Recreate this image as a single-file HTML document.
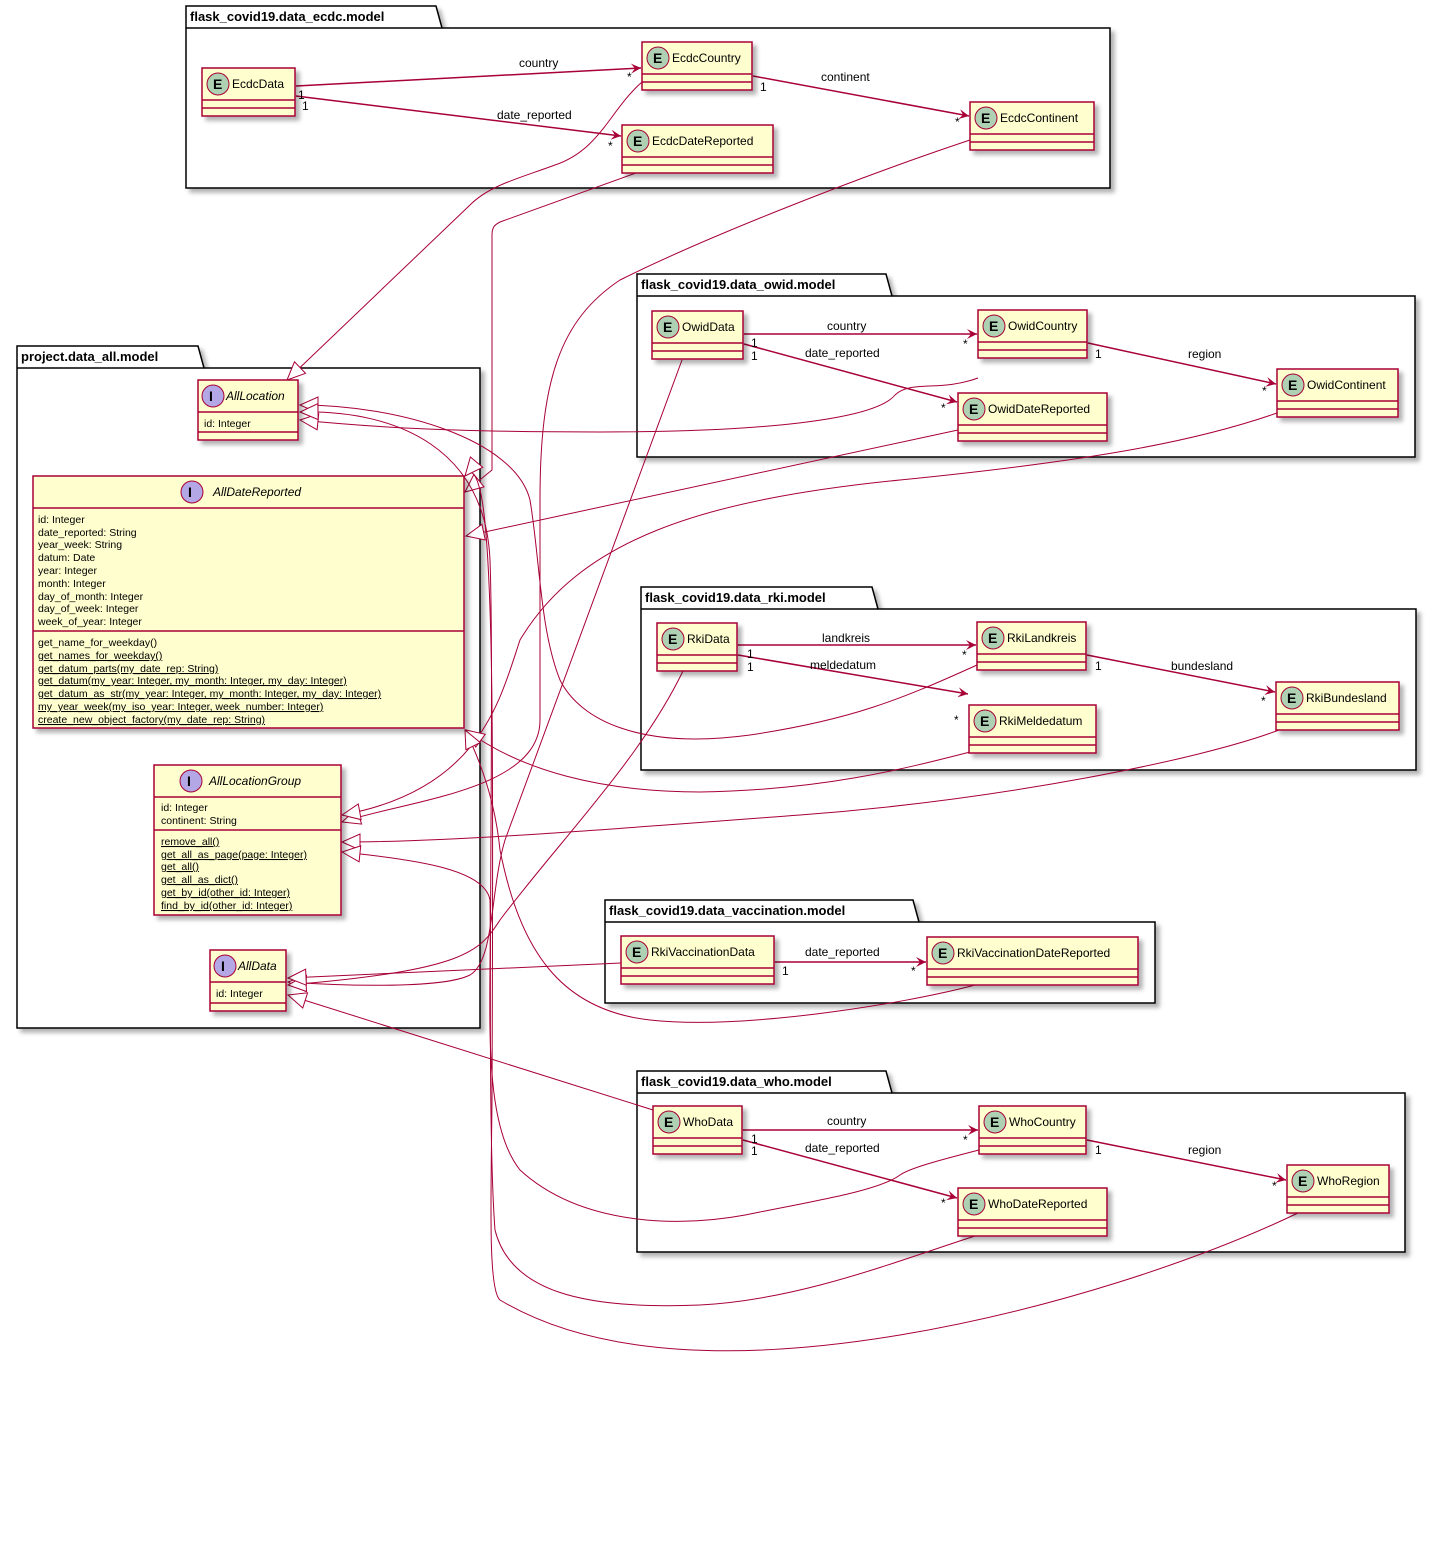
<!DOCTYPE html>
<html><head><meta charset="utf-8"><style>
html,body{margin:0;padding:0;background:#fff}
svg{display:block}
text{font-family:"Liberation Sans","DejaVu Sans",sans-serif;fill:#000}
.n{font-size:12px}
.f{font-size:10.5px}
.u{text-decoration:underline}
.pk{font-size:13px;font-weight:bold}
.e{fill:#FEFECE;stroke:#A80036;stroke-width:1.5;filter:url(#sh)}
.l{stroke:#A80036;stroke-width:1.5}
.c{fill:none;stroke:#A80036;stroke-width:1}
.t{fill:#fff;stroke:#A80036;stroke-width:1}
.p{fill:#fff;stroke:#000;stroke-width:1.5;filter:url(#sh)}
</style></head><body>
<svg width="1432" height="1543" viewBox="0 0 1432 1543" xmlns="http://www.w3.org/2000/svg">
<defs>
<filter id="sh" x="-5%" y="-5%" width="115%" height="130%"><feDropShadow dx="4" dy="4" stdDeviation="2" flood-color="#000" flood-opacity="0.3"/></filter>
<marker id="ar" markerWidth="12" markerHeight="10" refX="10" refY="5" orient="auto" markerUnits="userSpaceOnUse"><path d="M0,0 L10,5 L0,10 L4,5 Z" fill="#A80036"/></marker>
<marker id="dm" markerWidth="16" markerHeight="10" refX="1" refY="5" orient="auto-start-reverse" markerUnits="userSpaceOnUse"><path d="M1,5 L7,1 L13,5 L7,9 Z" fill="#A80036"/></marker>
<marker id="tr" markerWidth="22" markerHeight="22" refX="19" refY="10" orient="auto" markerUnits="userSpaceOnUse"><path d="M19,10 L1,2 L1,18 Z" fill="#fff" stroke="#A80036" stroke-width="1"/></marker>
</defs>

<!-- packages -->
<g>
<path class="p" d="M186,28 L186,6 L436,6 L442,28 L1110,28 L1110,188 L186,188 Z"/><line x1="186" y1="28" x2="442" y2="28" stroke="#000" stroke-width="1.5"/>
<text class="pk" x="190" y="21">flask_covid19.data_ecdc.model</text>
<path class="p" d="M637,296 L637,274 L886,274 L892,296 L1415,296 L1415,457 L637,457 Z"/><line x1="637" y1="296" x2="892" y2="296" stroke="#000" stroke-width="1.5"/>
<text class="pk" x="641" y="289">flask_covid19.data_owid.model</text>
<path class="p" d="M17,368 L17,346 L198,346 L204,368 L480,368 L480,1028 L17,1028 Z"/><line x1="17" y1="368" x2="204" y2="368" stroke="#000" stroke-width="1.5"/>
<text class="pk" x="21" y="361">project.data_all.model</text>
<path class="p" d="M641,609 L641,587 L872,587 L878,609 L1416,609 L1416,770 L641,770 Z"/><line x1="641" y1="609" x2="878" y2="609" stroke="#000" stroke-width="1.5"/>
<text class="pk" x="645" y="602">flask_covid19.data_rki.model</text>
<path class="p" d="M605,922 L605,900 L913,900 L919,922 L1155,922 L1155,1003 L605,1003 Z"/><line x1="605" y1="922" x2="919" y2="922" stroke="#000" stroke-width="1.5"/>
<text class="pk" x="609" y="915">flask_covid19.data_vaccination.model</text>
<path class="p" d="M637,1093 L637,1071 L886,1071 L892,1093 L1405,1093 L1405,1252 L637,1252 Z"/><line x1="637" y1="1093" x2="892" y2="1093" stroke="#000" stroke-width="1.5"/>
<text class="pk" x="641" y="1086">flask_covid19.data_who.model</text>
</g>

<!-- generalization connectors -->
<g>
<path class="c" marker-end="url(#tr)" d="M642,82 C610,110 600,150 555,165 C520,178 490,185 470,205 L287,380"/>
<path class="c" marker-end="url(#tr)" d="M636,173 L500,222 C494,225 492,228 492,235 L492,470 L465,492"/>
<path class="c" marker-end="url(#tr)" d="M970,140 C850,180 700,240 620,280 C560,320 540,380 540,500 L540,720 C540,790 410,800 342,822"/>
<path class="c" marker-end="url(#tr)" d="M682,360 L505,840 C490,890 495,960 470,975 C440,990 330,985 288,982"/>
<path class="c" marker-end="url(#tr)" d="M978,378 C940,392 910,380 895,395 C875,420 760,432 600,432 C460,432 380,428 300,420"/>
<path class="c" marker-end="url(#tr)" d="M958,430 L466,536"/>
<path class="c" marker-end="url(#tr)" d="M1277,413 C1200,440 1100,460 900,480 C700,500 580,540 520,640 C500,700 480,790 342,815"/>
<path class="c" marker-end="url(#tr)" d="M977,665 C900,700 850,720 750,735 C640,750 580,720 560,680 C540,630 540,560 530,500 C515,440 400,405 300,405"/>
<path class="c" marker-end="url(#tr)" d="M970,752 C900,770 820,790 700,792 C600,792 520,770 466,730"/>
<path class="c" marker-end="url(#tr)" d="M1279,730 C1200,760 1000,800 800,815 C600,830 450,842 342,842"/>
<path class="c" marker-end="url(#tr)" d="M683,671 C640,760 560,840 500,920 C480,950 470,970 288,985"/>
<path class="c" marker-end="url(#tr)" d="M621,963 L288,978"/>
<path class="c" marker-end="url(#tr)" d="M975,985 C900,1005 740,1030 650,1020 C560,1010 520,950 500,850 C495,800 480,760 465,730"/>
<path class="c" marker-end="url(#tr)" d="M653,1110 L288,995"/>
<path class="c" marker-end="url(#tr)" d="M979,1150 C940,1160 910,1168 900,1175 C880,1190 820,1200 760,1212 C680,1230 580,1225 520,1170 C480,1120 492,1000 490,900 C485,870 420,860 342,852"/>
<path class="c" marker-end="url(#tr)" d="M975,1236 C900,1260 800,1300 700,1305 C580,1310 510,1290 495,1230 C485,1100 495,700 490,560 C485,450 400,410 300,412"/>
<path class="c" marker-end="url(#tr)" d="M1298,1213 C1200,1260 1050,1310 900,1335 C750,1360 600,1360 500,1300 C488,1290 491,1200 492,1100 C493,800 495,550 480,490 C475,470 470,470 465,476"/>
</g>

<!-- associations -->
<g>
<path class="l" marker-start="url(#dm)" marker-end="url(#ar)" d="M296,86 L641,68"/>
<path class="l" marker-start="url(#dm)" marker-end="url(#ar)" d="M296,96 L621,136"/>
<path class="l" marker-start="url(#dm)" marker-end="url(#ar)" d="M753,76 L969,116"/>
<text class="n" x="519" y="67">country</text><text class="n" x="497" y="119">date_reported</text><text class="n" x="821" y="81">continent</text>
<text class="n" x="298" y="99">1</text><text class="n" x="302" y="110">1</text><text class="n" x="627" y="81">*</text><text class="n" x="608" y="150">*</text><text class="n" x="760" y="91">1</text><text class="n" x="955" y="126">*</text>

<path class="l" marker-start="url(#dm)" marker-end="url(#ar)" d="M744,334 L977,334"/>
<path class="l" marker-start="url(#dm)" marker-end="url(#ar)" d="M744,344 L957,402"/>
<path class="l" marker-start="url(#dm)" marker-end="url(#ar)" d="M1088,343 L1276,384"/>
<text class="n" x="827" y="330">country</text><text class="n" x="805" y="357">date_reported</text><text class="n" x="1188" y="358">region</text>
<text class="n" x="751" y="347">1</text><text class="n" x="751" y="360">1</text><text class="n" x="963" y="348">*</text><text class="n" x="941" y="412">*</text><text class="n" x="1095" y="358">1</text><text class="n" x="1262" y="395">*</text>

<path class="l" marker-start="url(#dm)" marker-end="url(#ar)" d="M738,645 L976,645"/>
<path class="l" marker-start="url(#dm)" marker-end="url(#ar)" d="M738,655 L968,694"/>
<path class="l" marker-start="url(#dm)" marker-end="url(#ar)" d="M1087,655 L1275,692"/>
<text class="n" x="822" y="642">landkreis</text><text class="n" x="810" y="669">meldedatum</text><text class="n" x="1171" y="670">bundesland</text>
<text class="n" x="747" y="658">1</text><text class="n" x="747" y="671">1</text><text class="n" x="962" y="659">*</text><text class="n" x="954" y="724">*</text><text class="n" x="1095" y="670">1</text><text class="n" x="1261" y="705">*</text>

<path class="l" marker-start="url(#dm)" marker-end="url(#ar)" d="M775,962 L926,962"/>
<text class="n" x="805" y="956">date_reported</text><text class="n" x="782" y="975">1</text><text class="n" x="911" y="975">*</text>

<path class="l" marker-start="url(#dm)" marker-end="url(#ar)" d="M743,1130 L978,1130"/>
<path class="l" marker-start="url(#dm)" marker-end="url(#ar)" d="M743,1140 L957,1198"/>
<path class="l" marker-start="url(#dm)" marker-end="url(#ar)" d="M1087,1140 L1286,1180"/>
<text class="n" x="827" y="1125">country</text><text class="n" x="805" y="1152">date_reported</text><text class="n" x="1188" y="1154">region</text>
<text class="n" x="751" y="1143">1</text><text class="n" x="751" y="1155">1</text><text class="n" x="963" y="1144">*</text><text class="n" x="941" y="1207">*</text><text class="n" x="1095" y="1154">1</text><text class="n" x="1272" y="1190">*</text>
</g>

<!-- entities -->
<g id="ents">
<g><rect class="e" x="202" y="68" width="93" height="48"/><line class="l" x1="202" y1="100" x2="295" y2="100"/><line class="l" x1="202" y1="108" x2="295" y2="108"/><circle cx="218" cy="84" r="11" fill="#ADD1B2" stroke="#A80036"/><text x="213" y="89" style="font-weight:bold;font-size:14px">E</text><text class="n" x="232" y="88">EcdcData</text></g>
<g><rect class="e" x="642" y="42" width="110" height="48"/><line class="l" x1="642" y1="74" x2="752" y2="74"/><line class="l" x1="642" y1="82" x2="752" y2="82"/><circle cx="658" cy="58" r="11" fill="#ADD1B2" stroke="#A80036"/><text x="653" y="63" style="font-weight:bold;font-size:14px">E</text><text class="n" x="672" y="62">EcdcCountry</text></g>
<g><rect class="e" x="622" y="125" width="151" height="48"/><line class="l" x1="622" y1="157" x2="773" y2="157"/><line class="l" x1="622" y1="165" x2="773" y2="165"/><circle cx="638" cy="141" r="11" fill="#ADD1B2" stroke="#A80036"/><text x="633" y="146" style="font-weight:bold;font-size:14px">E</text><text class="n" x="652" y="145">EcdcDateReported</text></g>
<g><rect class="e" x="970" y="102" width="124" height="48"/><line class="l" x1="970" y1="134" x2="1094" y2="134"/><line class="l" x1="970" y1="142" x2="1094" y2="142"/><circle cx="986" cy="118" r="11" fill="#ADD1B2" stroke="#A80036"/><text x="981" y="123" style="font-weight:bold;font-size:14px">E</text><text class="n" x="1000" y="122">EcdcContinent</text></g>

<g><rect class="e" x="652" y="311" width="91" height="48"/><line class="l" x1="652" y1="343" x2="743" y2="343"/><line class="l" x1="652" y1="351" x2="743" y2="351"/><circle cx="668" cy="327" r="11" fill="#ADD1B2" stroke="#A80036"/><text x="663" y="332" style="font-weight:bold;font-size:14px">E</text><text class="n" x="682" y="331">OwidData</text></g>
<g><rect class="e" x="978" y="310" width="109" height="48"/><line class="l" x1="978" y1="342" x2="1087" y2="342"/><line class="l" x1="978" y1="350" x2="1087" y2="350"/><circle cx="994" cy="326" r="11" fill="#ADD1B2" stroke="#A80036"/><text x="989" y="331" style="font-weight:bold;font-size:14px">E</text><text class="n" x="1008" y="330">OwidCountry</text></g>
<g><rect class="e" x="958" y="393" width="149" height="48"/><line class="l" x1="958" y1="425" x2="1107" y2="425"/><line class="l" x1="958" y1="433" x2="1107" y2="433"/><circle cx="974" cy="409" r="11" fill="#ADD1B2" stroke="#A80036"/><text x="969" y="414" style="font-weight:bold;font-size:14px">E</text><text class="n" x="988" y="413">OwidDateReported</text></g>
<g><rect class="e" x="1277" y="369" width="121" height="48"/><line class="l" x1="1277" y1="401" x2="1398" y2="401"/><line class="l" x1="1277" y1="409" x2="1398" y2="409"/><circle cx="1293" cy="385" r="11" fill="#ADD1B2" stroke="#A80036"/><text x="1288" y="390" style="font-weight:bold;font-size:14px">E</text><text class="n" x="1307" y="389">OwidContinent</text></g>

<g><rect class="e" x="657" y="623" width="80" height="48"/><line class="l" x1="657" y1="655" x2="737" y2="655"/><line class="l" x1="657" y1="663" x2="737" y2="663"/><circle cx="673" cy="639" r="11" fill="#ADD1B2" stroke="#A80036"/><text x="668" y="644" style="font-weight:bold;font-size:14px">E</text><text class="n" x="687" y="643">RkiData</text></g>
<g><rect class="e" x="977" y="622" width="109" height="48"/><line class="l" x1="977" y1="654" x2="1086" y2="654"/><line class="l" x1="977" y1="662" x2="1086" y2="662"/><circle cx="993" cy="638" r="11" fill="#ADD1B2" stroke="#A80036"/><text x="988" y="643" style="font-weight:bold;font-size:14px">E</text><text class="n" x="1007" y="642">RkiLandkreis</text></g>
<g><rect class="e" x="969" y="705" width="127" height="48"/><line class="l" x1="969" y1="737" x2="1096" y2="737"/><line class="l" x1="969" y1="745" x2="1096" y2="745"/><circle cx="985" cy="721" r="11" fill="#ADD1B2" stroke="#A80036"/><text x="980" y="726" style="font-weight:bold;font-size:14px">E</text><text class="n" x="999" y="725">RkiMeldedatum</text></g>
<g><rect class="e" x="1276" y="682" width="123" height="48"/><line class="l" x1="1276" y1="714" x2="1399" y2="714"/><line class="l" x1="1276" y1="722" x2="1399" y2="722"/><circle cx="1292" cy="698" r="11" fill="#ADD1B2" stroke="#A80036"/><text x="1287" y="703" style="font-weight:bold;font-size:14px">E</text><text class="n" x="1306" y="702">RkiBundesland</text></g>

<g><rect class="e" x="621" y="936" width="153" height="48"/><line class="l" x1="621" y1="968" x2="774" y2="968"/><line class="l" x1="621" y1="976" x2="774" y2="976"/><circle cx="637" cy="952" r="11" fill="#ADD1B2" stroke="#A80036"/><text x="632" y="957" style="font-weight:bold;font-size:14px">E</text><text class="n" x="651" y="956">RkiVaccinationData</text></g>
<g><rect class="e" x="927" y="937" width="211" height="48"/><line class="l" x1="927" y1="969" x2="1138" y2="969"/><line class="l" x1="927" y1="977" x2="1138" y2="977"/><circle cx="943" cy="953" r="11" fill="#ADD1B2" stroke="#A80036"/><text x="938" y="958" style="font-weight:bold;font-size:14px">E</text><text class="n" x="957" y="957">RkiVaccinationDateReported</text></g>

<g><rect class="e" x="653" y="1106" width="89" height="48"/><line class="l" x1="653" y1="1138" x2="742" y2="1138"/><line class="l" x1="653" y1="1146" x2="742" y2="1146"/><circle cx="669" cy="1122" r="11" fill="#ADD1B2" stroke="#A80036"/><text x="664" y="1127" style="font-weight:bold;font-size:14px">E</text><text class="n" x="683" y="1126">WhoData</text></g>
<g><rect class="e" x="979" y="1106" width="107" height="48"/><line class="l" x1="979" y1="1138" x2="1086" y2="1138"/><line class="l" x1="979" y1="1146" x2="1086" y2="1146"/><circle cx="995" cy="1122" r="11" fill="#ADD1B2" stroke="#A80036"/><text x="990" y="1127" style="font-weight:bold;font-size:14px">E</text><text class="n" x="1009" y="1126">WhoCountry</text></g>
<g><rect class="e" x="958" y="1188" width="149" height="48"/><line class="l" x1="958" y1="1220" x2="1107" y2="1220"/><line class="l" x1="958" y1="1228" x2="1107" y2="1228"/><circle cx="974" cy="1204" r="11" fill="#ADD1B2" stroke="#A80036"/><text x="969" y="1209" style="font-weight:bold;font-size:14px">E</text><text class="n" x="988" y="1208">WhoDateReported</text></g>
<g><rect class="e" x="1287" y="1165" width="102" height="48"/><line class="l" x1="1287" y1="1197" x2="1389" y2="1197"/><line class="l" x1="1287" y1="1205" x2="1389" y2="1205"/><circle cx="1303" cy="1181" r="11" fill="#ADD1B2" stroke="#A80036"/><text x="1298" y="1186" style="font-weight:bold;font-size:14px">E</text><text class="n" x="1317" y="1185">WhoRegion</text></g>
</g>

<!-- interfaces -->
<g>
<rect class="e" x="198" y="380" width="100" height="60"/><line class="l" x1="198" y1="412" x2="298" y2="412"/><line class="l" x1="198" y1="432" x2="298" y2="432"/>
<circle cx="213" cy="396" r="11" fill="#B4A7E5" stroke="#A80036"/><text x="209" y="401" style="font-weight:bold;font-size:14px">I</text><text class="n" x="226" y="400" font-style="italic">AllLocation</text>
<text class="f" x="204" y="427">id: Integer</text>

<rect class="e" x="33" y="476" width="431" height="252"/><line class="l" x1="33" y1="508" x2="464" y2="508"/><line class="l" x1="33" y1="631" x2="464" y2="631"/>
<circle cx="192" cy="492" r="11" fill="#B4A7E5" stroke="#A80036"/><text x="188" y="497" style="font-weight:bold;font-size:14px">I</text><text class="n" x="213" y="496" font-style="italic">AllDateReported</text>
<text class="f" x="38" y="523">id: Integer</text>
<text class="f" x="38" y="536">date_reported:  String</text>
<text class="f" x="38" y="548">year_week:  String</text>
<text class="f" x="38" y="561">datum: Date</text>
<text class="f" x="38" y="574">year: Integer</text>
<text class="f" x="38" y="587">month: Integer</text>
<text class="f" x="38" y="600">day_of_month: Integer</text>
<text class="f" x="38" y="612">day_of_week: Integer</text>
<text class="f" x="38" y="625">week_of_year: Integer</text>
<text class="f" x="38" y="646">get_name_for_weekday()</text>
<text class="f u" x="38" y="659">get_names_for_weekday()</text>
<text class="f u" x="38" y="672">get_datum_parts(my_date_rep: String)</text>
<text class="f u" x="38" y="684">get_datum(my_year: Integer, my_month: Integer, my_day: Integer)</text>
<text class="f u" x="38" y="697">get_datum_as_str(my_year: Integer, my_month: Integer, my_day: Integer)</text>
<text class="f u" x="38" y="710">my_year_week(my_iso_year: Integer, week_number: Integer)</text>
<text class="f u" x="38" y="723">create_new_object_factory(my_date_rep: String)</text>

<rect class="e" x="154" y="765" width="187" height="150"/><line class="l" x1="154" y1="797" x2="341" y2="797"/><line class="l" x1="154" y1="830" x2="341" y2="830"/>
<circle cx="191" cy="781" r="11" fill="#B4A7E5" stroke="#A80036"/><text x="187" y="786" style="font-weight:bold;font-size:14px">I</text><text class="n" x="209" y="785" font-style="italic">AllLocationGroup</text>
<text class="f" x="161" y="811">id: Integer</text>
<text class="f" x="161" y="824">continent:  String</text>
<text class="f u" x="161" y="845">remove_all()</text>
<text class="f u" x="161" y="858">get_all_as_page(page: Integer)</text>
<text class="f u" x="161" y="870">get_all()</text>
<text class="f u" x="161" y="883">get_all_as_dict()</text>
<text class="f u" x="161" y="896">get_by_id(other_id: Integer)</text>
<text class="f u" x="161" y="909">find_by_id(other_id: Integer)</text>

<rect class="e" x="210" y="950" width="76" height="61"/><line class="l" x1="210" y1="982" x2="286" y2="982"/><line class="l" x1="210" y1="1003" x2="286" y2="1003"/>
<circle cx="225" cy="966" r="11" fill="#B4A7E5" stroke="#A80036"/><text x="221" y="971" style="font-weight:bold;font-size:14px">I</text><text class="n" x="238" y="970" font-style="italic">AllData</text>
<text class="f" x="216" y="997">id: Integer</text>
</g>
</svg>
</body></html>
